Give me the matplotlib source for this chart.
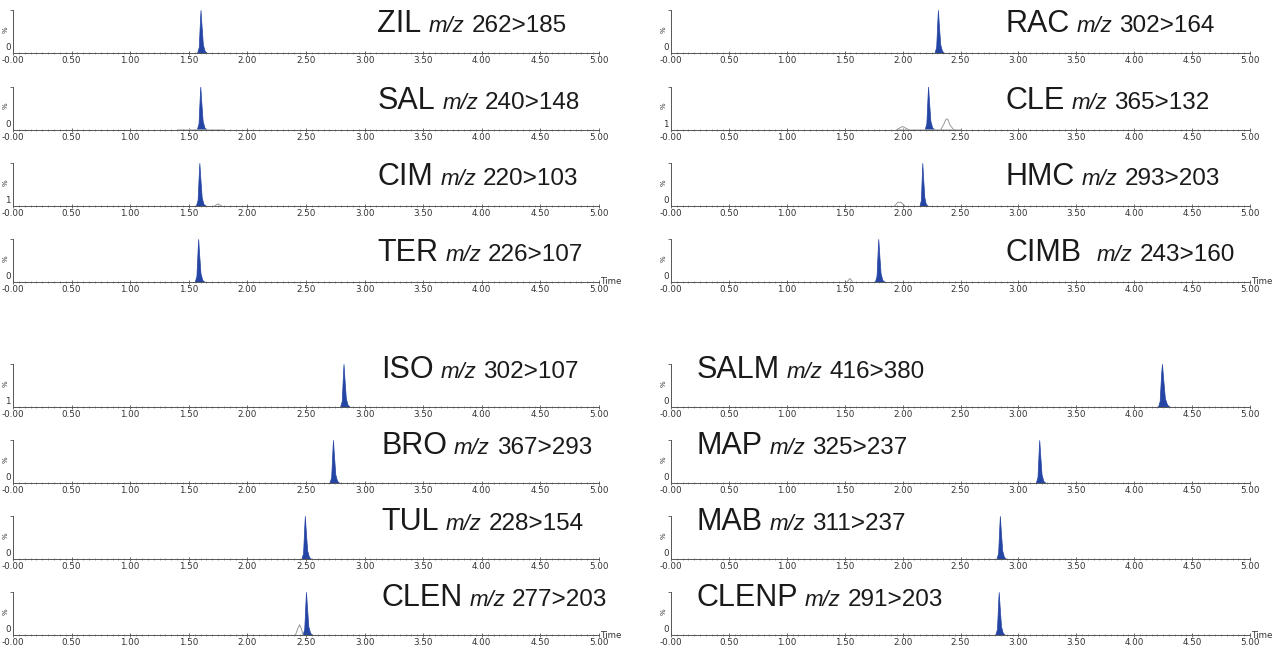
import numpy as np
import matplotlib
matplotlib.use('Agg')
import matplotlib.pyplot as plt
import matplotlib.transforms as mtransforms
from matplotlib.ticker import MultipleLocator

# panels: left column top->bottom, then right column top->bottom
names = ['ZIL', 'SAL', 'CIM', 'TER', 'ISO', 'BRO', 'TUL', 'CLEN',
         'RAC', 'CLE', 'HMC', 'CIMB', 'SALM', 'MAP', 'MAB', 'CLENP']
transitions = ['262>185', '240>148', '220>103', '226>107', '302>107', '367>293', '228>154', '277>203',
               '302>164', '365>132', '293>203', '243>160', '416>380', '325>237', '311>237', '291>203']
floor_labels = ['0', '0', '1', '0', '1', '0', '0', '0',
                '0', '1', '0', '0', '0', '0', '0', '0']

# main peak (filled), retention time points in min
peak_t = [
    [1.570, 1.585, 1.596, 1.600, 1.608, 1.620, 1.635, 1.655],  # ZIL
    [1.568, 1.583, 1.594, 1.598, 1.606, 1.618, 1.633, 1.653],  # SAL
    [1.560, 1.575, 1.586, 1.590, 1.598, 1.610, 1.625, 1.645],  # CIM
    [1.550, 1.565, 1.576, 1.580, 1.588, 1.600, 1.615, 1.635],  # TER
    [2.790, 2.805, 2.816, 2.820, 2.828, 2.840, 2.855, 2.875],  # ISO
    [2.700, 2.715, 2.726, 2.730, 2.738, 2.750, 2.765, 2.785],  # BRO
    [2.460, 2.475, 2.486, 2.490, 2.498, 2.510, 2.525, 2.545],  # TUL
    [2.470, 2.485, 2.496, 2.500, 2.508, 2.520, 2.535, 2.555],  # CLEN
    [2.275, 2.290, 2.301, 2.305, 2.313, 2.325, 2.340, 2.360],  # RAC
    [2.190, 2.205, 2.216, 2.220, 2.228, 2.240, 2.255, 2.275],  # CLE
    [2.145, 2.158, 2.167, 2.170, 2.177, 2.188, 2.200, 2.220],  # HMC
    [1.760, 1.775, 1.786, 1.790, 1.798, 1.810, 1.825, 1.845],  # CIMB
    [4.205, 4.220, 4.233, 4.240, 4.250, 4.265, 4.285, 4.310],  # SALM
    [3.150, 3.165, 3.176, 3.180, 3.188, 3.200, 3.215, 3.235],  # MAP
    [2.810, 2.825, 2.836, 2.840, 2.848, 2.860, 2.875, 2.895],  # MAB
    [2.800, 2.815, 2.826, 2.830, 2.838, 2.850, 2.865, 2.885],  # CLENP
]
peak_pct = [0, 14, 80, 100, 66, 20, 5, 0]

# low baseline trace around the peak (start, end) in min
trace_start = [1.35, 1.40, 1.35, 1.35, 2.60, 2.50, 2.30, 2.30,
               2.10, 1.95, 1.90, 1.50, 3.95, 3.00, 2.60, 2.60]
trace_end = [1.85, 1.80, 1.80, 1.80, 3.05, 2.95, 2.70, 2.70,
             2.55, 2.50, 2.40, 2.00, 4.45, 3.40, 3.05, 3.05]

# minor interference peaks (outline only)
minor_t = [[], [], [1.72, 1.75, 1.78], [], [], [], [],
           [2.41, 2.43, 2.445, 2.46, 2.475],
           [], [1.95, 2.00, 2.05, np.nan, 2.33, 2.355, 2.375, 2.39, 2.41, 2.44],
           [1.93, 1.96, 1.99, 2.02], [1.52, 1.545, 1.57], [], [], [], []]
minor_pct = [[], [], [0, 5, 0], [], [], [], [],
             [0, 15, 24, 15, 0],
             [], [0, 7, 0, np.nan, 0, 12, 24, 24, 10, 0],
             [0, 9, 8, 0], [0, 8, 0], [], [], [], []]

# layout (pixels of the 1280x655 canvas)
W, H = 1280, 655
col_left = [13, 671]
col_width = [586, 579]
row_base = [53, 129.5, 206, 282, 407, 483, 559, 635]
panel_h = 43
title_x = [3.11, 3.11, 3.11, 3.11, 3.14, 3.14, 3.14, 3.14,
           2.89, 2.89, 2.89, 2.89, 0.22, 0.22, 0.22, 0.22]
title_y = [0.48, 0.48, 0.48, 0.48, 0.67, 0.67, 0.67, 0.67,
           0.48, 0.48, 0.48, 0.48, 0.67, 0.67, 0.67, 0.67]
mz_gap = [5, 5, 5, 5, 5, 5, 5, 5, 5, 5, 5, 11, 5, 5, 5, 5]

fill_col = '#2545a5'
axis_col = '#555555'
text_col = '#1a1a1a'

fig = plt.figure(figsize=(12.8, 6.55), dpi=100)
xt = np.arange(0, 5.01, 0.5)
xlabels = ['-0.00'] + ['%.2f' % v for v in xt[1:]]

for i, name in enumerate(names):
    col, row = divmod(i, 8)
    ax = fig.add_axes([col_left[col] / W, (H - row_base[row]) / H,
                       col_width[col] / W, panel_h / H])
    ax.set_xlim(0, 5)
    ax.set_ylim(0, 100)
    ax.patch.set_alpha(0)
    ax.spines[['top', 'right']].set_visible(False)
    for s in ('left', 'bottom'):
        ax.spines[s].set_color(axis_col)
        ax.spines[s].set_linewidth(0.7)

    ax.set_xticks(xt)
    ax.set_xticklabels(xlabels)
    ax.xaxis.set_minor_locator(MultipleLocator(0.05))
    ax.tick_params(axis='x', which='major', length=3, width=0.6, direction='inout',
                   labelsize=6.3, pad=1, colors=axis_col, labelcolor='#333333')
    ax.tick_params(axis='x', which='minor', length=1.6, width=0.4, direction='inout',
                   colors=axis_col)
    ax.set_yticks([100])
    ax.set_yticklabels([])
    ax.tick_params(axis='y', length=2, width=0.6, colors=axis_col)

    # y annotations
    ax.text(-0.004, 0.02, floor_labels[i], transform=ax.transAxes, ha='right', va='bottom',
            fontsize=6.3, color='#333333')
    ax.text(-0.008, 0.55, '%', transform=ax.transAxes, ha='right', va='center',
            rotation=90, fontsize=5, color='#333333')

    # chromatogram
    ax.hlines(1.0, trace_start[i], trace_end[i], color='#b0b0b0', lw=0.5)
    if minor_t[i]:
        ax.plot(minor_t[i], minor_pct[i], color='#999999', lw=0.7)
    ax.fill_between(peak_t[i], peak_pct, 0, color=fill_col, lw=0.5, edgecolor=fill_col)

    # title
    tr = mtransforms.blended_transform_factory(ax.transData, ax.transAxes)
    t1 = ax.text(title_x[i], title_y[i], name, transform=tr, fontsize=22,
                 family='Liberation Sans', color=text_col, va='baseline')
    t2 = ax.annotate('m/z', xy=(1, title_y[i]), xycoords=(t1, ax.transAxes),
                     xytext=(mz_gap[i], 0), textcoords='offset points', fontsize=16,
                     style='italic', family='Liberation Sans', color=text_col, va='baseline')
    ax.annotate(transitions[i], xy=(1, title_y[i]), xycoords=(t2, ax.transAxes),
                xytext=(5, 0), textcoords='offset points', fontsize=17.5,
                family='Liberation Sans', color=text_col, va='baseline')

    if row in (3, 7):
        ax.text(1.002, 0.0, 'Time', transform=ax.transAxes, ha='left', va='center',
                fontsize=6.3, color='#333333')

fig.savefig('out.png', dpi=100)
